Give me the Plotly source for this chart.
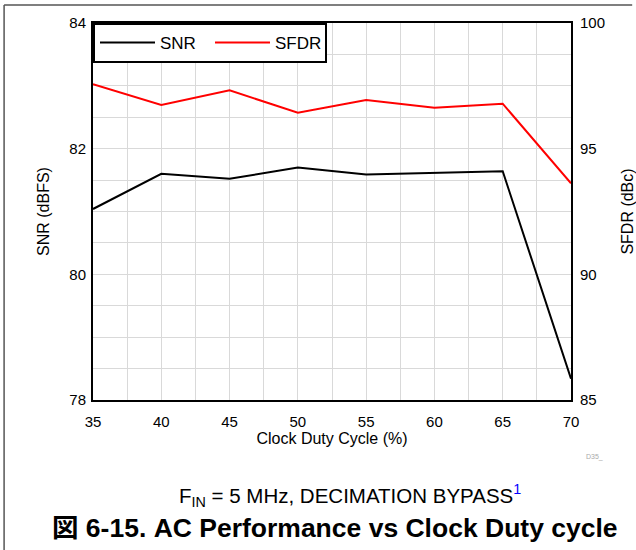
import plotly.graph_objects as go

# ===== DATOS =====
duty_cycle = [35, 40, 45, 50, 55, 60, 65, 70]
snr_dbfs = [81.04, 81.60, 81.52, 81.70, 81.59, 81.61, 81.64, 78.34]
sfdr_dbc = [97.56, 96.74, 97.32, 96.43, 96.94, 96.63, 96.79, 93.62]

FONT = "Liberation Sans, Arial, sans-serif"
GRID = "#d9d9d9"
FRAME = "#555555"

fig = go.Figure()
fig.add_trace(go.Scatter(x=duty_cycle, y=snr_dbfs, name="SNR", mode="lines",
                         line=dict(color="black", width=2)))
fig.add_trace(go.Scatter(x=duty_cycle, y=sfdr_dbc, name="SFDR", mode="lines",
                         line=dict(color="red", width=2), yaxis="y2"))

fig.update_layout(
    width=636, height=550,
    margin=dict(l=93, r=65, t=23, b=150),
    paper_bgcolor="white", plot_bgcolor="white",
    font=dict(family=FONT, size=15, color="black"),
    showlegend=True,
    xaxis=dict(
        range=[35, 70], dtick=5, tick0=35, automargin=False,
        showgrid=True, gridcolor=GRID, gridwidth=1,
        minor=dict(dtick=2.5, showgrid=True, gridcolor=GRID, gridwidth=1),
        showline=True, linecolor="black", linewidth=2, mirror=True,
        ticks="outside", ticklen=7, tickcolor="rgba(0,0,0,0)", zeroline=False,
        tickfont=dict(size=15),
        title=dict(text="Clock Duty Cycle (%)", font=dict(size=16), standoff=3),
    ),
    yaxis=dict(
        range=[78, 84], dtick=2, automargin=False,
        showgrid=True, gridcolor=GRID, gridwidth=1,
        minor=dict(dtick=0.5, showgrid=True, gridcolor=GRID, gridwidth=1),
        showline=True, linecolor="black", linewidth=2, mirror=True,
        ticks="outside", ticklen=2, tickcolor="rgba(0,0,0,0)", zeroline=False,
        tickfont=dict(size=15),
        title=dict(text="SNR (dBFS)", font=dict(size=16), standoff=16),
    ),
    yaxis2=dict(
        range=[85, 100], dtick=5, overlaying="y", side="right", automargin=False,
        showgrid=False, showline=True, linecolor="black", linewidth=2,
        ticks="outside", ticklen=4, tickcolor="rgba(0,0,0,0)", zeroline=False,
        tickfont=dict(size=15),
        title=dict(text="SFDR (dBc)", font=dict(size=16), standoff=20),
    ),
    legend=dict(
        orientation="h", x=0, y=1, xanchor="left", yanchor="top",
        bgcolor="white", bordercolor="black", borderwidth=2,
        font=dict(size=17), entrywidth=45, itemwidth=55,
    ),
    shapes=[
        # marco exterior (linea superior e izquierda)
        dict(type="line", xref="paper", yref="paper", x0=-0.186, x1=1.128,
             y0=1.0477, y1=1.0477, line=dict(color=FRAME, width=1.5)),
        dict(type="line", xref="paper", yref="paper", x0=-0.186, x1=-0.186,
             y0=1.0477, y1=-0.42, line=dict(color=FRAME, width=1.5)),
    ],
    annotations=[
        dict(text="D35_", xref="paper", yref="paper", x=1.05, y=-0.151,
             xanchor="center", yanchor="middle",
             showarrow=False, font=dict(size=7, color="#aaaaaa")),
        dict(text='F<sub>IN</sub> = 5 MHz, DECIMATION BYPASS<sup><span style="color:#0000ff;">1</span></sup>',
             xref="paper", yref="paper", x=0.5375, y=-0.252,
             xanchor="center", yanchor="middle", showarrow=False,
             font=dict(size=20.5)),
        dict(text="<b>図 6-15. AC Performance vs Clock Duty cycle</b>",
             xref="paper", yref="paper", x=0.507, y=-0.34,
             xanchor="center", yanchor="middle", showarrow=False,
             font=dict(size=26.5, family="Liberation Sans, Noto Sans CJK JP, sans-serif")),
    ],
)

fig.write_html("out.html", config={"displayModeBar": False},
               post_script="document.body.style.margin='0';")
